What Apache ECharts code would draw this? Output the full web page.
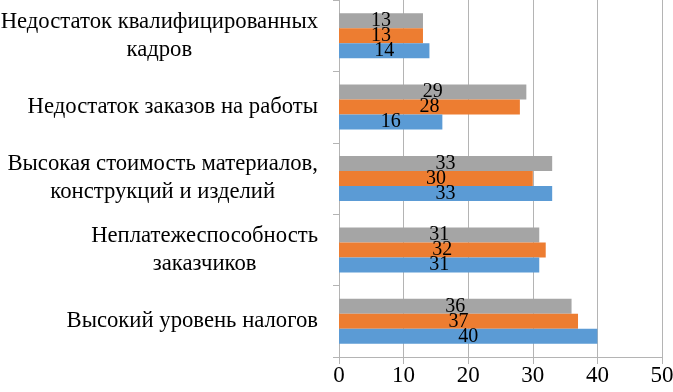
<!DOCTYPE html>
<html>
<head>
<meta charset="utf-8">
<script src="https://cdn.jsdelivr.net/npm/echarts@6/dist/echarts.min.js"></script>
<style>
	html, body { margin: 0; padding: 0; background: #fff; }
	#main { width: 673px; height: 392px; }
</style>
</head>
<body>
<div id="main"></div>
<script>
// categories, top to bottom
const categories = [
	"Недостаток квалифицированных\nкадров",
	"Недостаток заказов на работы",
	"Высокая стоимость материалов,\nконструкций и изделий",
	"Неплатежеспособность\nзаказчиков",
	"Высокий уровень налогов",
];
const grayValues = [13, 29, 33, 31, 36];
const orangeValues = [13, 28, 30, 32, 37];
const blueValues = [14, 16, 33, 31, 40];
const xTicks = [0, 10, 20, 30, 40, 50];

const FONT = "Liberation Serif";

var chartDom = document.getElementById("main");
var chart = echarts.init(chartDom);

function barSeries(name, data, color) {
	return {
		name: name,
		type: "bar",
		data: data,
		barWidth: 15,
		barGap: "0%",
		itemStyle: { color: color },
		label: {
			show: true,
			position: "inside",
			color: "#000",
			fontFamily: FONT,
			fontSize: 20,
		},
		silent: true,
	};
}

var option = {
	animation: false,
	textStyle: { fontFamily: FONT },
	grid: {
		left: 339,
		right: 11,
		top: 0,
		bottom: 35,
		outerBoundsMode: "none",
	},
	xAxis: {
		type: "value",
		min: xTicks[0],
		max: xTicks[xTicks.length - 1],
		interval: 10,
		axisLine: { show: true, lineStyle: { color: "#b4b4b4" } },
		axisTick: { show: true, length: 7, lineStyle: { color: "#b4b4b4" } },
		axisLabel: {
			color: "#000",
			fontFamily: FONT,
			fontSize: 23,
			margin: 7,
		},
		splitLine: { show: true, lineStyle: { color: "#b4b4b4" } },
	},
	yAxis: {
		type: "category",
		inverse: true,
		data: categories,
		axisLine: { show: true, lineStyle: { color: "#b4b4b4" } },
		axisTick: { show: true, length: 6, lineStyle: { color: "#b4b4b4" } },
		axisLabel: {
			margin: 21,
			color: "#000",
			fontFamily: FONT,
			fontSize: 22.7,
			lineHeight: 28,
			formatter: function (value) {
				return value
					.split("\n")
					.map((s) => "{c|" + s + "}")
					.join("\n");
			},
			rich: {
				c: {
					align: "center",
					color: "#000",
					fontFamily: FONT,
					fontSize: 22.7,
					lineHeight: 28,
				},
			},
		},
	},
	series: [
		barSeries("gray", grayValues, "#a5a5a5"),
		barSeries("orange", orangeValues, "#ed7d31"),
		barSeries("blue", blueValues, "#5b9bd5"),
	],
};

option && chart.setOption(option);
</script>
</body>
</html>
